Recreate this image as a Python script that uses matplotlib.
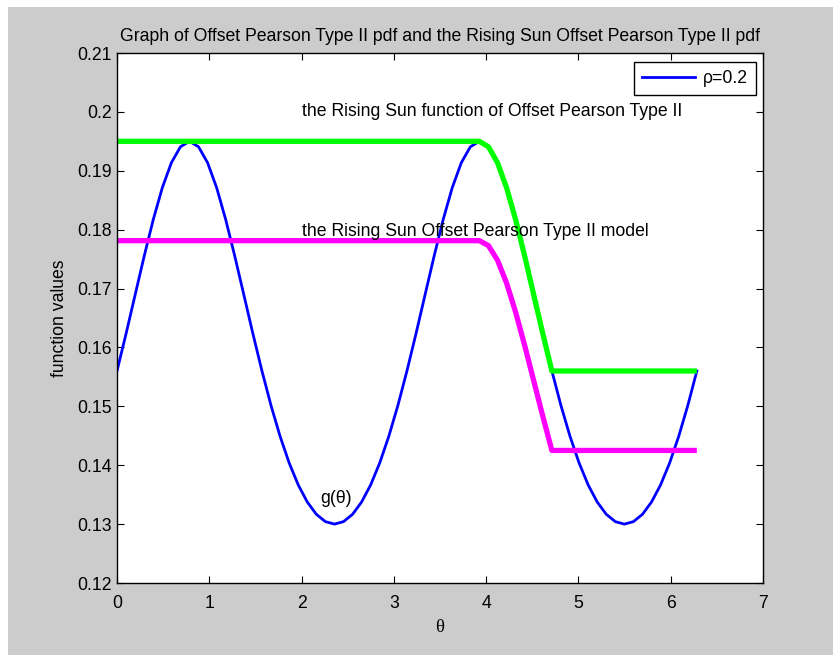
import numpy as np
import matplotlib
matplotlib.use("Agg")
import matplotlib.pyplot as plt
from matplotlib.patches import Rectangle

plt.rcParams['font.family'] = ['Liberation Sans', 'DejaVu Sans']

# theta grid, step pi/32
theta = np.linspace(0, 2 * np.pi, 65)
# offset Pearson type II pdf g(theta), rho = 0.2
g_vals = [0.156, 0.16233, 0.16893, 0.17550, 0.18170, 0.18712, 0.19136, 0.19407, 0.195,
          0.19407, 0.19136, 0.18712, 0.18170, 0.17550, 0.16893, 0.16233, 0.156,
          0.15014, 0.14491, 0.14040, 0.13667, 0.13376, 0.13167, 0.13042, 0.13,
          0.13042, 0.13167, 0.13376, 0.13667, 0.14040, 0.14491, 0.15014, 0.156,
          0.16233, 0.16893, 0.17550, 0.18170, 0.18712, 0.19136, 0.19407, 0.195,
          0.19407, 0.19136, 0.18712, 0.18170, 0.17550, 0.16893, 0.16233, 0.156,
          0.15014, 0.14491, 0.14040, 0.13667, 0.13376, 0.13167, 0.13042, 0.13,
          0.13042, 0.13167, 0.13376, 0.13667, 0.14040, 0.14491, 0.15014, 0.156]

# rising sun function (green) and rising sun model (magenta)
sun_x = [0, 3.9270, 4.0252, 4.1233, 4.2215, 4.3197, 4.4179, 4.5160, 4.6142, 4.7124, 6.2832]
sun_y = [0.195, 0.195, 0.19407, 0.19136, 0.18712, 0.18170, 0.17550, 0.16893, 0.16233, 0.156, 0.156]
model_y = [0.17813, 0.17813, 0.17728, 0.17481, 0.17093, 0.16598, 0.16032, 0.15432, 0.14829, 0.14251, 0.14251]

xticks = [0, 1, 2, 3, 4, 5, 6, 7]
yticks = [0.12, 0.13, 0.14, 0.15, 0.16, 0.17, 0.18, 0.19, 0.2, 0.21]
ytick_labels = ['0.12', '0.13', '0.14', '0.15', '0.16', '0.17', '0.18', '0.19', '0.2', '0.21']

fig = plt.figure(figsize=(8.33, 6.55), dpi=100)
fig.patch.set_facecolor('white')
# grey MATLAB figure area (white strip at top/left like the screenshot)
fig.add_artist(Rectangle((8 / 833, 0), 1, 1 - 7 / 655, transform=fig.transFigure,
                         facecolor='#cccccc', edgecolor='none', zorder=-5))

ax = fig.add_axes([117 / 833, 1 - 583 / 655, 646 / 833, 530 / 655])
ax.set_facecolor('white')

ax.plot(theta, g_vals, color='#0000ff', lw=2.0, label='\u03c1=0.2')
ax.plot(sun_x, sun_y, color='#00ff00', lw=3.8, solid_capstyle='butt')
ax.plot(sun_x, model_y, color='#ff00ff', lw=3.8, solid_capstyle='butt')

fs = 12.7
ax.text(2, 0.2, 'the Rising Sun function of Offset Pearson Type II', fontsize=fs, va='center')
ax.text(2, 0.1797, 'the Rising Sun Offset Pearson Type II model', fontsize=fs, va='center')
ax.text(2.2, 0.1343, 'g(\u03b8)', fontsize=fs, va='center')

ax.set_xlim(0, 7)
ax.set_ylim(0.12, 0.21)
ax.set_xticks(xticks)
ax.set_yticks(yticks)
ax.set_yticklabels(ytick_labels)
ax.tick_params(direction='in', length=5, width=0.8, top=True, right=True,
               labelsize=fs, colors='black')
ax.tick_params(axis='x', pad=8.5)
ax.tick_params(axis='y', pad=3.6)
for s in ax.spines.values():
    s.set_linewidth(1.0)

ax.set_title('Graph of Offset Pearson Type II pdf and the Rising Sun Offset Pearson Type II pdf',
             fontsize=fs, pad=8.5)
ax.set_xlabel('\u03b8', fontsize=13.5, family=['Liberation Serif', 'DejaVu Serif'], labelpad=5)
ax.set_ylabel('function values', fontsize=fs, labelpad=6.5)

leg = ax.legend(loc='upper right', bbox_to_anchor=(0.989, 0.983), borderaxespad=0,
                fontsize=fs, fancybox=False, framealpha=1, edgecolor='black',
                handlelength=3, borderpad=0.45, handletextpad=0.45)
leg.get_frame().set_linewidth(1.0)

fig.savefig('out.png', dpi=100, facecolor=fig.get_facecolor())
